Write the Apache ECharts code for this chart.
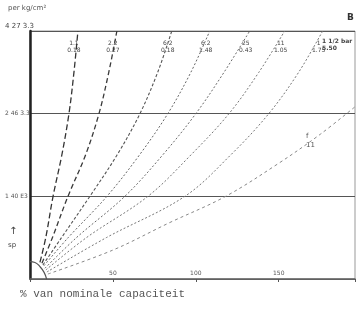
<!DOCTYPE html>
<html><head><meta charset="utf-8">
<script src="https://cdn.jsdelivr.net/npm/echarts@6/dist/echarts.min.js"></script>
<style>html,body{margin:0;padding:0;background:#fff}#c{width:359px;height:309px}</style>
</head><body><div id="c"></div>
<script>
// y tick labels (pressure), x tick values (% capacity)
const yTickLabels = {1: '1 40 E3', 2: '2 46 3.3', 3: '4 27 3.3'};
const xTickLabels = {50: '50', 100: '100', 150: '150'};
const curveNames = ['A','B','C','D','E','F','G','H'];
const curveTopLabels = ['1.1\n0.18', '2.2\n0.27', '6.2\n0.18', '6.2\n1.48', '25\n0.43', '11\n1.05', '1\n1.75', ''];
// curves: [% capacity, pressure level]
const curveA = [[6.0,0.2],[9.5,0.5],[13.9,1],[19.2,1.5],[23.5,2],[26.5,2.5],[28.9,3]];
const curveB = [[7.2,0.19],[13.5,0.5],[22.9,1],[33.5,1.5],[41.6,2],[47.5,2.5],[52.4,3]];
const curveC = [[7.8,0.17],[19,0.5],[36.1,1],[52.5,1.5],[66.3,2],[77,2.5],[85.5,3]];
const curveD = [[8.4,0.16],[23,0.5],[46.4,1],[66,1.5],[83.1,2],[97,2.5],[108.4,3]];
const curveE = [[9,0.13],[28,0.5],[57.2,1],[80,1.5],[100,2],[117,2.5],[132.5,3]];
const curveF = [[9.6,0.11],[34,0.5],[71.1,1],[97,1.5],[120,2],[138,2.5],[153.6,3]];
const curveG = [[10.2,0.085],[46,0.5],[93.4,1],[121,1.5],[144,2],[162,2.5],[176.5,3]];
const curveH = [[10.8,0.06],[50,0.35],[84,0.68],[118,1],[150,1.4],[175,1.75],[195.8,2.08]];
const curves = [curveA,curveB,curveC,curveD,curveE,curveF,curveG,curveH];
const originArc = [[0,0.21],[3,0.2],[6,0.15],[8.5,0.08],[10,0]];

const styles = [
  {color:'#333', width:1.3, type:[6,3]},
  {color:'#3a3a3a', width:1.3, type:[5,3]},
  {color:'#555', width:1.1, type:[3,2]},
  {color:'#666', width:1, type:[2,2]},
  {color:'#6a6a6a', width:1, type:[2,2]},
  {color:'#777', width:1, type:[2,2]},
  {color:'#777', width:1, type:[2,2]},
  {color:'#888', width:1, type:[3,3]}
];

const chart = echarts.init(document.getElementById('c'), null, {renderer:'canvas'});
const series = curves.map((d,i)=>({
  name: curveNames[i], type:'line', data:d, smooth:0.35, symbol:'none',
  lineStyle: styles[i], silent:true, z:3
}));
series.push({type:'line', data:originArc, smooth:true, symbol:'none', lineStyle:{color:'#555', width:1.2}, z:3});

chart.setOption({
  animation:false,
  grid:{left:30, right:4, top:31, bottom:30, show:true, borderColor:'#999', borderWidth:1},
  xAxis:{type:'value', min:0, max:196, interval:50,
    axisLine:{show:true, lineStyle:{color:'#666', width:1.5}},
    axisTick:{show:true, length:3, inside:false, lineStyle:{color:'#555'}},
    axisLabel:{inside:true, margin:3, fontSize:6, color:'#555', fontFamily:'DejaVu Sans',
      formatter:v=>xTickLabels[v]||''},
    splitLine:{show:false}},
  yAxis:{type:'value', min:0, max:3, interval:1,
    axisLine:{show:true, lineStyle:{color:'#222', width:2.5}},
    axisTick:{show:false},
    axisLabel:{align:'left', margin:25, fontSize:6, color:'#555', fontFamily:'DejaVu Sans',
      formatter:v=> v===3 ? '{t|'+yTickLabels[v]+'}' : (yTickLabels[v]||''),
      rich:{t:{fontSize:7, color:'#444', padding:[0,0,10,0], fontFamily:'DejaVu Sans'}}},
    splitLine:{show:true, lineStyle:{color:'#555', width:1.2}}},
  series: series
});

// curve labels at the top, placed at each curve's top end
const g = [];
curves.forEach((d,i)=>{
  if(!curveTopLabels[i]) return;
  const last = d[d.length-1];
  const p = chart.convertToPixel({gridIndex:0}, last);
  g.push({type:'text', x:p[0]-4, y:40, style:{text:curveTopLabels[i], fontSize:6, lineHeight:7, fill:'#444', fontFamily:'DejaVu Sans', align:'center'}});
});
g.push({type:'text', x:322, y:38, style:{text:'1 1/2 bar\n5.50', fontSize:6, lineHeight:7, fill:'#444', fontFamily:'DejaVu Sans', fontWeight:'bold'}});
g.push({type:'text', x:306, y:132, style:{text:'f\n11', fontSize:7, lineHeight:9, fill:'#555', fontFamily:'DejaVu Sans'}});
g.push({type:'text', x:8, y:5, style:{text:'per kg/cm²', fontSize:7, fill:'#555', fontFamily:'DejaVu Sans'}});
g.push({type:'text', x:347, y:13, style:{text:'B', fontSize:9, fontWeight:'bold', fill:'#333', fontFamily:'DejaVu Sans'}});
g.push({type:'text', x:9, y:226, style:{text:'↑', fontSize:10, fill:'#444', fontFamily:'DejaVu Sans'}});
g.push({type:'text', x:8, y:242, style:{text:'sp', fontSize:7, fill:'#444', fontFamily:'DejaVu Sans'}});
g.push({type:'text', x:20, y:289, style:{text:'% van nominale capaciteit', fontSize:11, fill:'#555', fontFamily:'Liberation Mono'}});
chart.setOption({graphic:g});
</script></body></html>
